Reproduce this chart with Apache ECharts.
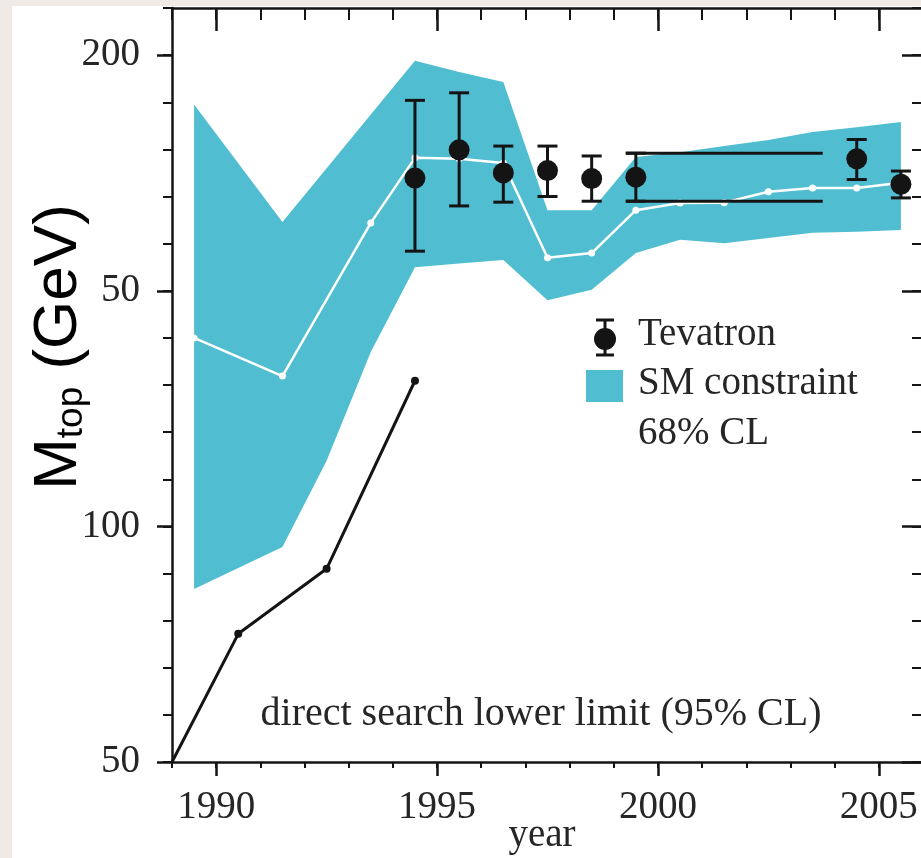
<!DOCTYPE html>
<html>
<head>
<meta charset="utf-8">
<script src="https://cdn.jsdelivr.net/npm/echarts@6/dist/echarts.min.js"></script>
<style>
html, body { margin: 0; padding: 0; background: #efebe4; }
#main { width: 921px; height: 858px; }
</style>
</head>
<body>
<div id="main"></div>
<script>
// SM constraint band (68% CL)
var bandYears = [1989.5, 1991.5, 1992.5, 1993.5, 1994.5, 1995.5, 1996.5, 1997.5, 1998.5, 1999.5, 2000.5, 2001.5, 2002.5, 2003.5, 2004.5, 2005.5];
var bandUpper = [189.5, 164.6, 176.0, 187.4, 198.8, 196.4, 194.3, 167.1, 167.1, 178.4, 179.4, 180.7, 182.0, 183.7, 184.7, 185.8];
var bandLower = [86.7, 95.6, 113.9, 137.0, 155.0, 155.8, 156.5, 148.0, 150.2, 158.0, 160.8, 160.1, 161.2, 162.3, 162.5, 162.9];

// central SM fit (white line)
var fitYears = [1989.5, 1991.5, 1993.5, 1994.5, 1995.5, 1996.5, 1997.5, 1998.5, 1999.5, 2000.5, 2001.5, 2002.5, 2003.5, 2004.5, 2005.5];
var fitValues = [140.0, 131.9, 164.4, 178.2, 178.0, 177.1, 157.0, 158.0, 167.1, 168.6, 168.7, 171.0, 171.8, 171.8, 172.9];

// Tevatron measurements
var tevYears = [1994.5, 1995.5, 1996.5, 1997.5, 1998.5, 1999.5, 2004.5, 2005.5];
var tevValues = [173.9, 179.9, 175.0, 175.5, 173.8, 174.1, 178.0, 172.6];
var tevHigh = [190.4, 192.0, 180.7, 180.7, 178.6, 179.2, 182.1, 175.4];
var tevLow = [158.4, 168.0, 168.8, 170.0, 169.0, 169.0, 173.6, 169.7];

// extended 1999.5 error band lines
var projYears = [1999.27, 2003.73];
var projHigh = 179.2;
var projLow = 169.0;

// direct search lower limit (95% CL)
var searchYears = [1989, 1990.5, 1992.5, 1994.5];
var searchValues = [50, 77.2, 91.0, 130.9];

// ticks
var xMajorTicks = [1990, 1995, 2000, 2005];
var yTickValues = [50, 100, 150, 200];
var yTickLabels = ['50', '100', '50', '200'];

var bandColor = '#50bed0';
var ink = '#141414';
var textInk = '#262626';
var serif = 'Liberation Serif';

var myChart = echarts.init(document.getElementById('main'), null, { renderer: 'canvas' });

function xAxisCfg(pos, major) {
    var inside = pos === 'top';
    return {
        type: 'value', min: 1989, max: 2006, interval: 1, position: pos,
        axisLine: { show: major, onZero: false, lineStyle: { color: ink, width: 2.5 } },
        axisTick: major ? {
            customValues: xMajorTicks, inside: inside, length: inside ? 23 : 14,
            lineStyle: { color: ink, width: 2.5 }
        } : {
            inside: inside, length: inside ? 12 : 6, lineStyle: { color: ink, width: 2 }
        },
        axisLabel: (major && !inside) ? {
            customValues: xMajorTicks, margin: 26,
            fontFamily: serif, fontSize: 39, color: textInk,
            formatter: function (v) { return String(v); }
        } : { show: false },
        splitLine: { show: false }
    };
}

function yAxisCfg(pos, major) {
    var inside = pos === 'right';
    return {
        type: 'value', min: 50, max: 210, interval: 10, position: pos,
        axisLine: { show: major, onZero: false, lineStyle: { color: ink, width: 2.5 } },
        axisTick: major ? {
            customValues: yTickValues, inside: inside, length: inside ? 21 : 15,
            lineStyle: { color: ink, width: 2.5 }
        } : {
            inside: inside, length: inside ? 11 : 9, lineStyle: { color: ink, width: 2 }
        },
        axisLabel: (major && !inside) ? {
            customValues: yTickValues, margin: 32,
            fontFamily: serif, fontSize: 39, color: textInk,
            formatter: function (v) { return yTickLabels[yTickValues.indexOf(v)]; }
        } : { show: false },
        splitLine: { show: false }
    };
}

var option = {
    animation: false,
    backgroundColor: '#efebe4',
    grid: { left: 172, top: 8, width: 751, height: 754, containLabel: false, outerBoundsMode: 'none' },
    xAxis: [xAxisCfg('bottom', true), xAxisCfg('bottom', false), xAxisCfg('top', true), xAxisCfg('top', false)],
    yAxis: [yAxisCfg('left', true), yAxisCfg('left', false), yAxisCfg('right', true), yAxisCfg('right', false)],
    graphic: [
        { type: 'rect', z: -10, silent: true, shape: { x: 12, y: 6, width: 909, height: 852 }, style: { fill: '#ffffff' } },
        {
            type: 'text', x: 59, y: 347, rotation: Math.PI / 2, z: 10,
            style: {
                text: '{m|M}{s|top}{m| (GeV)}',
                align: 'center', verticalAlign: 'middle',
                rich: {
                    m: { fontFamily: 'Liberation Sans', fontSize: 62, lineHeight: 62, fill: '#000' },
                    s: { fontFamily: 'Liberation Sans', fontSize: 37, lineHeight: 37, verticalAlign: 'bottom', fill: '#000' }
                }
            }
        },
        {
            type: 'text', x: 542, y: 836, z: 10,
            style: { text: 'year', font: '39px "Liberation Serif"', fill: textInk, align: 'center', verticalAlign: 'middle' }
        },
        {
            type: 'text', x: 541, y: 714, z: 10,
            style: { text: 'direct search lower limit (95% CL)', font: '40px "Liberation Serif"', fill: textInk, align: 'center', verticalAlign: 'middle' }
        },
        // legend: Tevatron marker
        { type: 'line', z: 10, shape: { x1: 605, y1: 320, x2: 605, y2: 355 }, style: { stroke: ink, lineWidth: 3 } },
        { type: 'line', z: 10, shape: { x1: 596, y1: 320, x2: 614, y2: 320 }, style: { stroke: ink, lineWidth: 3 } },
        { type: 'line', z: 10, shape: { x1: 596, y1: 355, x2: 614, y2: 355 }, style: { stroke: ink, lineWidth: 3 } },
        { type: 'circle', z: 10, shape: { cx: 605, cy: 339, r: 11 }, style: { fill: ink } },
        { type: 'text', x: 638, y: 335, z: 10, style: { text: 'Tevatron', font: '39px "Liberation Serif"', fill: textInk, verticalAlign: 'middle' } },
        // legend: SM constraint swatch
        { type: 'rect', z: 10, shape: { x: 586, y: 370, width: 37, height: 32 }, style: { fill: bandColor } },
        { type: 'text', x: 638, y: 384, z: 10, style: { text: 'SM constraint', font: '39px "Liberation Serif"', fill: textInk, verticalAlign: 'middle' } },
        { type: 'text', x: 638, y: 434, z: 10, style: { text: '68% CL', font: '39px "Liberation Serif"', fill: textInk, verticalAlign: 'middle' } }
    ],
    series: [
        {
            name: 'SM constraint',
            type: 'custom',
            z: 1,
            data: bandYears.map(function (y, i) { return [y, bandLower[i], bandUpper[i]]; }),
            encode: { x: 0, y: [1, 2] },
            renderItem: function (params, api) {
                if (params.dataIndex !== 0) return null;
                var pts = [];
                for (var i = 0; i < bandYears.length; i++) pts.push(api.coord([bandYears[i], bandUpper[i]]));
                for (var j = bandYears.length - 1; j >= 0; j--) pts.push(api.coord([bandYears[j], bandLower[j]]));
                return { type: 'polygon', shape: { points: pts }, style: { fill: bandColor } };
            }
        },
        {
            name: 'SM fit',
            type: 'line',
            z: 3,
            data: fitYears.map(function (y, i) { return [y, fitValues[i]]; }),
            symbol: 'circle', symbolSize: 7,
            lineStyle: { color: '#ffffff', width: 2.5 },
            itemStyle: { color: '#ffffff', borderWidth: 0 }
        },
        {
            name: 'direct search',
            type: 'line',
            z: 3,
            data: searchYears.map(function (y, i) {
                return i === 0 ? { value: [y, searchValues[i]], symbol: 'none' } : [y, searchValues[i]];
            }),
            symbol: 'circle', symbolSize: 8,
            lineStyle: { color: ink, width: 3 },
            itemStyle: { color: ink, borderWidth: 0 }
        },
        {
            type: 'line', z: 4, symbol: 'none',
            data: projYears.map(function (y) { return [y, projHigh]; }),
            lineStyle: { color: ink, width: 3 }
        },
        {
            type: 'line', z: 4, symbol: 'none',
            data: projYears.map(function (y) { return [y, projLow]; }),
            lineStyle: { color: ink, width: 3 }
        },
        {
            name: 'Tevatron errors',
            type: 'custom',
            z: 5,
            data: tevYears.map(function (y, i) { return [y, tevLow[i], tevHigh[i]]; }),
            encode: { x: 0, y: [1, 2] },
            renderItem: function (params, api) {
                var lo = api.coord([api.value(0), api.value(1)]);
                var hi = api.coord([api.value(0), api.value(2)]);
                var hw = 10;
                var st = { stroke: ink, lineWidth: 3 };
                return {
                    type: 'group',
                    children: [
                        { type: 'line', shape: { x1: lo[0], y1: lo[1], x2: hi[0], y2: hi[1] }, style: st },
                        { type: 'line', shape: { x1: lo[0] - hw, y1: lo[1], x2: lo[0] + hw, y2: lo[1] }, style: st },
                        { type: 'line', shape: { x1: hi[0] - hw, y1: hi[1], x2: hi[0] + hw, y2: hi[1] }, style: st }
                    ]
                };
            }
        },
        {
            name: 'Tevatron',
            type: 'scatter',
            z: 6,
            data: tevYears.map(function (y, i) { return [y, tevValues[i]]; }),
            symbol: 'circle', symbolSize: 21,
            itemStyle: { color: ink, opacity: 1 }
        }
    ]
};

if (option) myChart.setOption(option);
</script>
</body>
</html>
